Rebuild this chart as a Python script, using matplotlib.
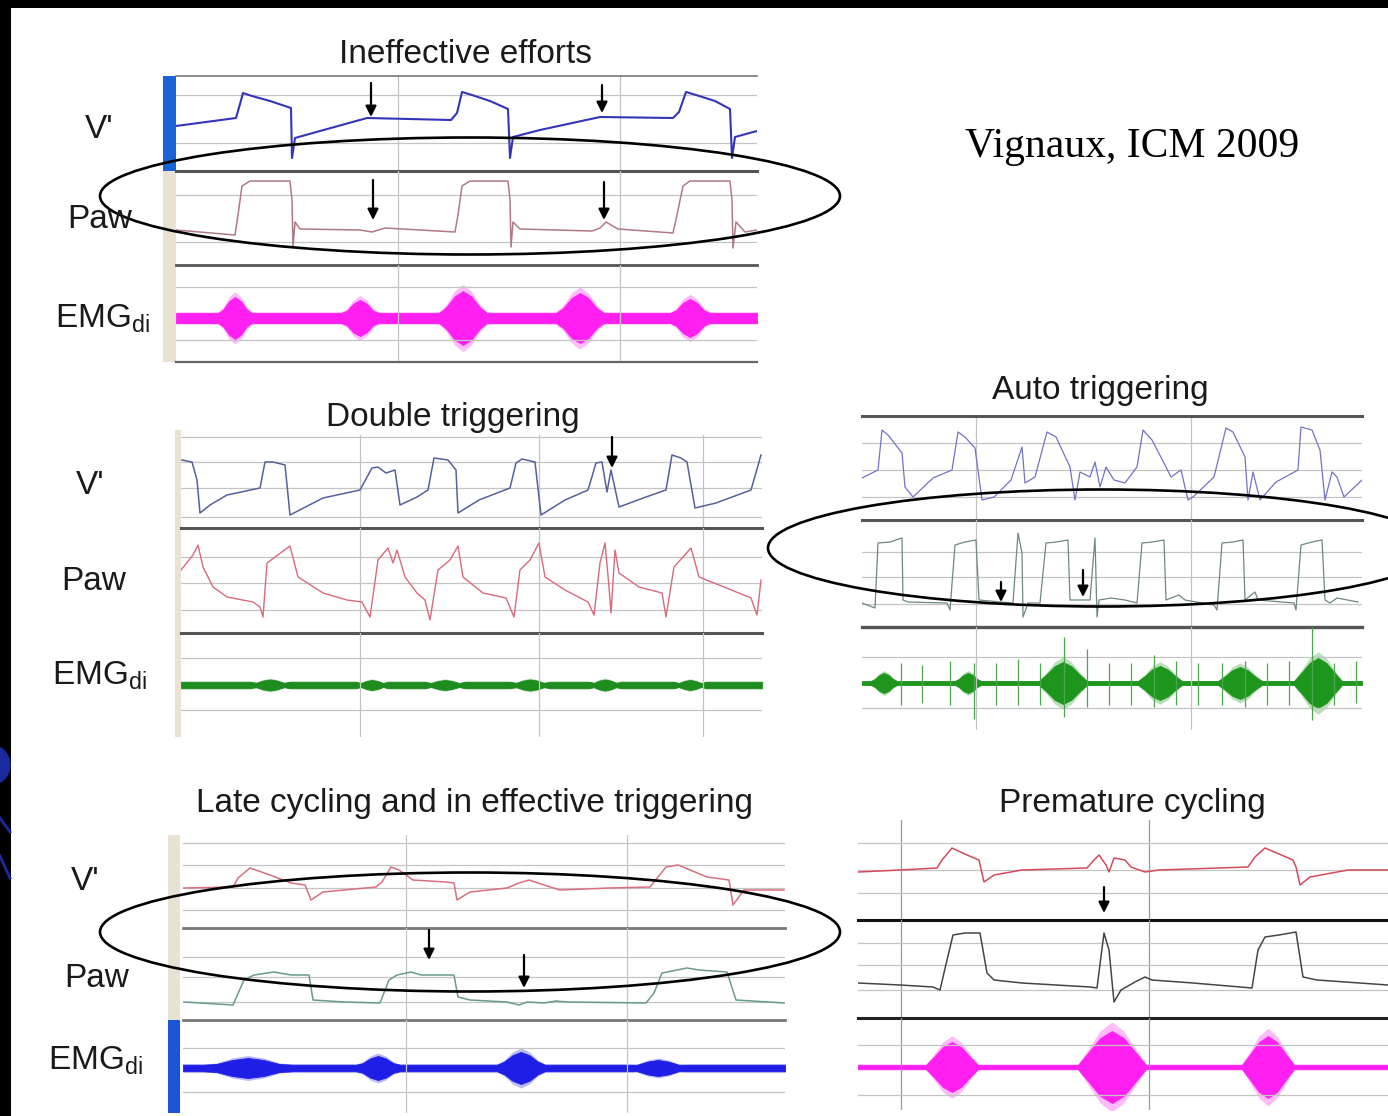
import matplotlib.pyplot as plt
from matplotlib.patches import Ellipse, Circle

W, H = 1388, 1116
plt.rcParams['font.family'] = ['Liberation Sans', 'DejaVu Sans']
plt.rcParams['mathtext.fontset'] = 'custom'
plt.rcParams['mathtext.rm'] = 'Liberation Sans'
plt.rcParams['mathtext.it'] = 'Liberation Sans:italic'

# ---- data: time in s (100 px per s), signal in arbitrary units ----
# panel 1: ineffective efforts
p1_flow_t = [0.00, 0.60, 0.64, 0.67, 0.76, 0.94, 1.15, 1.16, 1.19, 1.44, 1.91, 2.75, 2.81, 2.86, 2.96,
             3.14, 3.32, 3.34, 3.37, 3.64, 4.24, 4.97, 5.03, 5.10, 5.20, 5.39, 5.54, 5.56, 5.59, 5.81]
p1_flow = [-0.3, 0.5, 1.9, 3.0, 2.7, 2.2, 1.5, -3.5, -1.5, -0.8, 0.5, 0.3, 1.0, 3.1, 2.8,
           2.2, 1.4, -3.5, -1.4, -0.7, 0.6, 0.5, 1.1, 3.1, 2.8, 2.2, 1.4, -3.5, -1.4, -0.8]
p1_paw_t = [0.00, 0.59, 0.62, 0.66, 0.74, 1.14, 1.16, 1.17, 1.19, 1.24, 1.84, 1.96, 2.09, 2.79, 2.82,
            2.86, 2.94, 3.32, 3.34, 3.35, 3.37, 3.44, 4.16, 4.24, 4.30, 4.42, 4.97, 5.01, 5.07, 5.14,
            5.54, 5.56, 5.57, 5.60, 5.69, 5.81]
p1_paw = [0.0, -0.5, 1.5, 4.4, 4.9, 4.9, 3.0, -1.6, 0.8, 0.1, 0.0, -0.2, 0.2, -0.2, 1.5,
          4.4, 4.9, 4.9, 3.0, -1.7, 0.8, 0.1, -0.1, 0.2, 0.8, 0.1, -0.3, 1.5, 4.4, 4.9,
          4.9, 3.0, -1.8, 0.8, -0.2, 0.0]
p1_emg_centers = [0.59, 1.84, 2.87, 4.04, 5.14]
p1_emg_widths = [0.17, 0.19, 0.24, 0.24, 0.20]
p1_emg_amps = [2.1, 1.8, 2.7, 2.5, 1.9]
p1_arrows_flow = [(1.95, 4.0, 0.6), (4.26, 3.8, 1.0)]
p1_arrows_paw = [(1.97, 5.0, 1.0), (4.28, 4.8, 1.0)]

# panel 2: double triggering
p2_flow_t = [0.01, 0.11, 0.16, 0.19, 0.29, 0.46, 0.79, 0.84, 0.92, 1.04, 1.09, 1.42, 1.79, 1.91, 1.97,
             2.05, 2.14, 2.19, 2.36, 2.47, 2.53, 2.67, 2.75, 2.77, 2.98, 3.29, 3.35, 3.41, 3.54, 3.60,
             3.84, 4.07, 4.15, 4.21, 4.26, 4.30, 4.38, 4.65, 4.85, 4.91, 5.00, 5.06, 5.14, 5.35, 5.70, 5.80]
p2_flow = [2.8, 2.6, 0.8, -2.5, -1.7, -0.7, 0.0, 2.6, 2.6, 2.3, -2.7, -1.0, -0.2, 2.0, 2.1,
           1.5, 1.8, -1.7, -0.9, -0.2, 3.0, 2.8, 1.8, -2.5, -1.2, 0.0, 2.5, 2.9, 2.6, -2.7,
           -1.2, -0.2, 2.5, 2.6, -0.4, 1.8, -1.9, -0.9, -0.2, 3.3, 3.0, 2.6, -2.0, -1.5, -0.2, 3.3]
p2_paw_t = [0.00, 0.12, 0.17, 0.22, 0.32, 0.46, 0.72, 0.79, 0.82, 0.86, 0.94, 1.09, 1.17, 1.42, 1.66,
            1.81, 1.89, 1.97, 2.07, 2.12, 2.16, 2.24, 2.36, 2.44, 2.49, 2.57, 2.69, 2.77, 2.82, 3.02,
            3.25, 3.33, 3.39, 3.49, 3.58, 3.64, 3.84, 4.07, 4.13, 4.19, 4.24, 4.28, 4.30, 4.34, 4.38,
            4.58, 4.81, 4.85, 4.93, 5.02, 5.10, 5.18, 5.43, 5.70, 5.76, 5.80]
p2_paw = [1.3, 2.8, 3.8, 1.6, -0.4, -1.4, -1.9, -2.4, -3.4, 2.0, 2.6, 3.7, 0.6, -1.0, -1.7,
          -1.9, -3.4, 2.3, 3.5, 2.0, 3.3, 0.6, -1.0, -1.7, -3.7, 1.3, 2.3, 3.7, 0.6, -1.0,
          -1.5, -3.4, 1.3, 2.3, 4.0, 0.6, -0.7, -1.9, -3.2, 2.0, 4.0, -0.4, -3.0, 3.3, 1.0,
          -0.4, -1.0, -3.4, 1.6, 2.6, 3.5, 0.6, -0.4, -1.5, -3.2, 0.3]
p2_emg_centers = [0.89, 1.91, 2.64, 3.49, 4.24, 5.09]
p2_emg_widths = [0.20, 0.16, 0.20, 0.20, 0.16, 0.16]
p2_emg_amps = [0.55, 0.5, 0.5, 0.55, 0.55, 0.5]
p2_arrows_flow = [(4.31, 5.1, 2.0)]

# panel 3: auto triggering
p3_flow_t = [0.00, 0.16, 0.20, 0.26, 0.40, 0.43, 0.51, 0.71, 0.90, 0.96, 1.03, 1.13, 1.20, 1.32, 1.49,
             1.60, 1.63, 1.73, 1.85, 1.94, 2.08, 2.13, 2.18, 2.28, 2.33, 2.38, 2.44, 2.52, 2.63, 2.75,
             2.81, 2.90, 3.04, 3.09, 3.19, 3.26, 3.31, 3.52, 3.64, 3.71, 3.83, 3.86, 3.91, 3.98, 4.14,
             4.36, 4.39, 4.50, 4.58, 4.63, 4.70, 4.75, 4.82, 5.00]
p3_flow = [-0.8, 0.0, 4.0, 3.5, 1.7, -1.7, -2.7, -0.8, 0.0, 3.8, 3.3, 2.2, -3.0, -2.7, -1.0,
           2.3, -1.3, -0.7, 3.8, 3.3, 0.3, -3.0, -0.2, -0.7, 0.8, -1.7, 0.3, -1.0, -1.3, 0.3,
           4.0, 3.0, 0.3, -0.7, 0.0, -3.0, -2.7, -0.7, 4.2, 3.8, 1.3, -3.0, -0.2, -3.0, -1.2,
           0.0, 4.3, 4.0, 2.0, -3.0, -0.2, -0.7, -2.7, -1.0]
p3_paw_t = [0.00, 0.13, 0.16, 0.28, 0.40, 0.41, 0.46, 0.85, 0.88, 0.93, 1.03, 1.14, 1.17, 1.39, 1.51,
            1.56, 1.60, 1.61, 1.66, 1.78, 1.84, 1.94, 2.06, 2.08, 2.28, 2.33, 2.35, 2.37, 2.49, 2.63,
            2.75, 2.80, 2.90, 3.02, 3.04, 3.17, 3.23, 3.52, 3.55, 3.60, 3.71, 3.81, 3.83, 3.93, 3.96,
            4.32, 4.34, 4.39, 4.50, 4.60, 4.63, 4.68, 4.75, 4.96]
p3_paw = [0.1, -0.4, 6.1, 6.2, 6.6, 0.4, 0.2, 0.1, -0.6, 5.9, 6.2, 6.4, 0.4, 0.2, 0.1,
          7.1, 5.1, -1.3, 0.1, 0.1, 6.1, 6.2, 6.4, 0.4, 0.4, 6.6, -1.3, 0.4, 0.6, 0.4,
          0.1, 6.1, 6.2, 6.4, 0.4, 0.9, 0.4, -0.1, -0.6, 6.1, 6.2, 6.4, 0.4, 1.2, 0.4,
          0.1, -0.6, 5.9, 6.2, 6.4, 0.4, 0.1, 0.6, 0.2]
p3_emg_centers = [0.22, 1.06, 2.01, 2.98, 3.78, 4.56]
p3_emg_widths = [0.13, 0.13, 0.24, 0.22, 0.22, 0.24]
p3_emg_amps = [1.0, 1.0, 2.1, 1.7, 1.6, 2.5]
p3_spike_t = [0.39, 0.60, 0.88, 1.12, 1.34, 1.56, 1.78, 2.02, 2.25, 2.47, 2.69, 2.92, 3.14, 3.36, 3.60,
              3.83, 4.05, 4.27, 4.50, 4.72, 4.94]
p3_spike_up = [2.0, 1.8, 2.2, 2.0, 2.0, 2.4, 2.0, 4.6, 3.4, 2.0, 2.0, 2.8, 2.2, 2.0, 2.0,
               2.2, 2.0, 2.2, 5.6, 2.0, 2.2]
p3_spike_dn = [2.2, 2.0, 2.2, 3.6, 2.2, 2.2, 2.2, 3.4, 2.4, 2.2, 2.2, 2.4, 2.2, 2.2, 2.2,
               2.4, 2.2, 2.2, 3.7, 2.2, 2.0]
p3_arrows_paw = [(1.39, 2.2, 0.2), (2.21, 3.4, 0.7)]

# panel 4: late cycling and ineffective triggering
p4_flow_t = [0.00, 0.50, 0.55, 0.67, 0.87, 1.08, 1.22, 1.28, 1.40, 1.61, 1.93, 1.99, 2.08, 2.16, 2.30,
             2.63, 2.71, 2.74, 2.87, 3.24, 3.36, 3.46, 3.61, 3.77, 4.26, 4.67, 4.83, 4.95, 5.24, 5.46,
             5.50, 5.61, 6.01]
p4_flow = [0.0, 0.1, 1.0, 2.0, 1.3, 0.5, 0.3, -1.2, -0.4, -0.2, 0.1, 0.6, 2.1, 1.8, 0.8,
           0.6, 0.5, -1.2, -0.4, 0.0, 0.5, 0.8, 0.3, -0.2, 0.0, 0.1, 2.1, 2.3, 1.1, 0.8,
           -1.7, -0.2, -0.2]
p4_paw_t = [0.01, 0.50, 0.61, 0.71, 0.91, 1.08, 1.26, 1.30, 1.61, 1.97, 2.06, 2.14, 2.28, 2.38, 2.71,
            2.75, 2.87, 3.24, 3.36, 3.44, 3.61, 3.73, 3.85, 4.63, 4.71, 4.79, 5.04, 5.16, 5.44, 5.53,
            6.01]
p4_paw = [0.0, -0.3, 2.2, 2.7, 3.0, 2.7, 2.7, 0.2, 0.0, -0.1, 2.2, 2.7, 3.0, 2.7, 2.7,
          0.5, 0.2, 0.0, -0.3, 0.0, -0.1, 0.1, 0.0, -0.1, 0.9, 2.9, 3.4, 3.2, 3.0, 0.2,
          -0.1]
p4_emg_centers = [0.65, 1.95, 3.38, 4.75]
p4_emg_widths = [0.45, 0.22, 0.24, 0.30]
p4_emg_amps = [1.0, 1.2, 1.6, 0.8]
p4_arrows_paw = [(2.46, 7.2, 4.2), (3.41, 4.7, 1.4)]

# panel 5: premature cycling
p5_flow_t = [0.00, 0.42, 0.79, 0.84, 0.94, 1.09, 1.21, 1.26, 1.36, 1.64, 2.29, 2.36, 2.41, 2.48, 2.51,
             2.56, 2.67, 2.73, 2.87, 3.01, 3.90, 3.97, 4.07, 4.35, 4.38, 4.42, 4.52, 4.90, 5.30]
p5_flow = [-0.2, 0.0, 0.2, 1.0, 2.2, 1.5, 1.0, -1.2, -0.5, 0.0, 0.2, 1.0, 1.5, 0.5, -0.2,
           1.2, 1.0, 0.3, -0.2, 0.0, 0.3, 1.3, 2.2, 1.0, 0.3, -1.5, -0.7, 0.0, 0.0]
p5_paw_t = [0.00, 0.42, 0.75, 0.82, 0.89, 0.95, 1.07, 1.22, 1.29, 1.36, 1.64, 2.32, 2.39, 2.46, 2.51,
            2.56, 2.63, 2.77, 2.87, 2.94, 3.35, 3.94, 4.00, 4.07, 4.21, 4.38, 4.45, 4.59, 5.30]
p5_paw = [0.7, 0.5, 0.3, 0.0, 3.0, 5.5, 5.7, 5.7, 1.7, 1.0, 0.7, 0.3, 0.2, 5.7, 4.0,
          -1.2, 0.0, 0.8, 1.3, 1.0, 0.7, 0.2, 4.0, 5.3, 5.5, 5.8, 1.3, 1.0, 0.5]
p5_emg_centers = [0.94, 2.54, 4.10]
p5_emg_widths = [0.26, 0.34, 0.26]
p5_emg_amps = [2.5, 3.6, 3.1]
p5_arrows_flow = [(2.46, -1.7, -4.3)]

titles = ["Ineffective efforts", "Double triggering", "Auto triggering",
          "Late cycling and in effective triggering", "Premature cycling"]

# ---- figure ----
fig = plt.figure(figsize=(W / 100, H / 100), dpi=100, facecolor='black')


def px_box(l, t, r, b):
    return [l / W, 1 - b / H, (r - l) / W, (b - t) / H]


bg = fig.add_axes(px_box(11, 8, W, H))
bg.set_facecolor('white')
bg.set_xticks([])
bg.set_yticks([])
for s in bg.spines.values():
    s.set_visible(False)


def channel(l, t, r, b, base, levels, vtimes, top=None, bottom=None, vcolor='#c4c4c4'):
    ax = fig.add_axes(px_box(l, t, r, b))
    ax.set_facecolor('none')
    ax.set_xlim(0, (r - l) / 100)
    ax.set_ylim((base - b) / 10, (base - t) / 10)
    ax.set_yticks(levels)
    ax.set_xticks(vtimes)
    ax.grid(True, axis='y', color='#c4c4c4', lw=0.9)
    ax.grid(True, axis='x', color=vcolor, lw=0.9)
    ax.tick_params(length=0, labelleft=False, labelbottom=False)
    for s in ax.spines.values():
        s.set_visible(False)
    for name, st in (('top', top), ('bottom', bottom)):
        if st:
            ax.spines[name].set_visible(True)
            ax.spines[name].set_color(st[0])
            ax.spines[name].set_linewidth(st[1])
    return ax


def emg(ax, centers, widths, amps, base, color):
    # tapered burst envelopes around a steady baseline band, plus a soft halo
    t_end = ax.get_xlim()[1]
    et, ev = [0.0], [base]
    for c, w, a in zip(centers, widths, amps):
        et += [c - w, c - 0.7 * w, c - 0.35 * w, c, c + 0.35 * w, c + 0.7 * w, c + w]
        ev += [base, a * 0.4, a * 0.8, a, a * 0.8, a * 0.4, base]
    et.append(t_end)
    ev.append(base)
    ax.fill_between(et, [-v * 1.25 for v in ev], [v * 1.25 for v in ev], color=color, alpha=0.3, lw=0)
    ax.fill_between(et, [-v for v in ev], ev, color=color, lw=0.6)


def arrows(ax, items):
    for t, y0, y1 in items:
        ax.annotate('', xy=(t, y1), xytext=(t, y0),
                    arrowprops=dict(arrowstyle='-|>', color='black', lw=1.6,
                                    mutation_scale=16, shrinkA=0, shrinkB=0))


def bar(l, t, r, b, color):
    a = fig.add_axes(px_box(l, t, r, b))
    a.set_facecolor(color)
    a.set_xticks([])
    a.set_yticks([])
    for s in a.spines.values():
        s.set_visible(False)


SEP = '#555555'

# panel 1
bar(163, 76, 176, 171, '#1a63d6')
bar(163, 171, 176, 362, '#e9e1d2')
v1 = [2.22, 4.44]
a = channel(176, 76, 757, 171, 123, [2.8, -2.0], v1, top=('#777777', 1.2), bottom=(SEP, 2.2))
a.plot(p1_flow_t, p1_flow, color='#3434b8', lw=1.5)
arrows(a, p1_arrows_flow)
a = channel(176, 171, 757, 265, 230, [3.5, -1.2], v1, bottom=(SEP, 2.0))
a.plot(p1_paw_t, p1_paw, color='#b07a84', lw=1.1)
arrows(a, p1_arrows_paw)
a = channel(176, 265, 757, 362, 318, [3.1, -2.2], v1, bottom=('#666666', 1.6))
emg(a, p1_emg_centers, p1_emg_widths, p1_emg_amps, 0.5, '#ff1ff0')

# panel 2
bar(175, 430, 181, 737, '#e9e1d2')
v2 = [1.79, 3.58, 5.22]
a = channel(181, 435, 762, 528, 488, [5.1, 2.6, 0.0, -2.9], v2, bottom=(SEP, 2.2))
a.plot(p2_flow_t, p2_flow, color='#56609a', lw=1.1)
arrows(a, p2_arrows_flow)
a = channel(181, 528, 762, 633, 583, [2.6, 0.0, -2.7], v2, bottom=(SEP, 2.2))
a.plot(p2_paw_t, p2_paw, color='#d86a7c', lw=1.0)
a = channel(181, 633, 762, 737, 685, [2.7, -2.5], v2)
emg(a, p2_emg_centers, p2_emg_widths, p2_emg_amps, 0.32, '#1e8c1e')

# panel 3
v3 = [1.14, 3.29]
a = channel(862, 416, 1362, 520, 470, [2.7, 0.0, -2.7], v3, top=(SEP, 2.2), bottom=(SEP, 2.2))
a.plot(p3_flow_t, p3_flow, color='#7272c8', lw=0.9)
a = channel(862, 520, 1362, 627, 604, [5.2, 2.7, 0.0], v3, bottom=(SEP, 2.4))
a.plot(p3_paw_t, p3_paw, color='#6e8884', lw=0.9)
arrows(a, p3_arrows_paw)
a = channel(862, 627, 1362, 730, 683, [2.6, -2.5], v3)
a.vlines(p3_spike_t, [-d for d in p3_spike_dn], p3_spike_up, color='#4aa84a', lw=0.9)
emg(a, p3_emg_centers, p3_emg_widths, p3_emg_amps, 0.2, '#1e961e')

# panel 4
bar(168, 835, 180, 1020, '#e9e1d2')
bar(168, 1020, 180, 1113, '#1a55d8')
v4 = [2.23, 4.44]
a = channel(183, 835, 785, 928, 888, [4.5, 2.3, 0.0, -2.2], v4, bottom=('#777777', 2.0))
a.plot(p4_flow_t, p4_flow, color='#d87080', lw=1.1)
a = channel(183, 928, 785, 1020, 1002, [4.5, 2.5, 0.0], v4, bottom=('#777777', 2.0))
a.plot(p4_paw_t, p4_paw, color='#6a9a8c', lw=1.1)
arrows(a, p4_arrows_paw)
a = channel(183, 1020, 785, 1113, 1068, [2.0, -2.4], v4)
emg(a, p4_emg_centers, p4_emg_widths, p4_emg_amps, 0.33, '#1e1ee6')

# panel 5
v5 = [0.43, 2.91]
a = channel(858, 820, 1388, 920, 870, [2.7, 0.0, -2.3], v5, bottom=('#111111', 2.2), vcolor='#9a9a9a')
a.plot(p5_flow_t, p5_flow, color='#d44a5c', lw=1.1)
arrows(a, p5_arrows_flow)
a = channel(858, 920, 1388, 1018, 990, [4.7, 2.5, 0.0], v5, bottom=('#222222', 2.2), vcolor='#9a9a9a')
a.plot(p5_paw_t, p5_paw, color='#454545', lw=1.1)
a = channel(858, 1018, 1388, 1110, 1067, [2.2, -2.8], v5, vcolor='#9a9a9a')
emg(a, p5_emg_centers, p5_emg_widths, p5_emg_amps, 0.22, '#ff1ff0')

# ---- overlay: texts, ellipses, slide decoration ----
ov = fig.add_axes([0, 0, 1, 1])
ov.set_xlim(0, W)
ov.set_ylim(H, 0)
ov.axis('off')
ov.set_facecolor('none')
ov.set_zorder(10)

for (cx, cy, w, h) in [(470, 196, 740, 117), (1102, 548, 668, 117), (470, 932, 740, 119)]:
    ov.add_patch(Ellipse((cx, cy), w, h, fill=False, ec='black', lw=1.9, clip_on=False))

ov.add_patch(Circle((-10, 765), 20, color='#1c2aa0'))
ov.plot([0, 10], [818, 832], color='#1c2aa0', lw=2)
ov.plot([0, 10], [856, 878], color='#1c2aa0', lw=2)

tkw = dict(ha='center', va='baseline', fontsize=24, color='#1a1a1a')
for txt, x, y in zip(titles, [466, 453, 1100, 475, 1132], [63, 426, 399, 812, 812]):
    ov.text(x, y, txt, **tkw)
ov.text(1132, 157, 'Vignaux, ICM 2009', ha='center', va='baseline', fontsize=30,
        family='Liberation Serif', color='black')

# (V' x, V' baseline, Paw x, Paw baseline, EMG x, EMG baseline)
labels = [(99, 138, 100, 228, 102, 328), (90, 494, 94, 590, 99, 685), (85, 890, 97, 987, 95, 1070)]
for xv, yv, xp, yp, xe, ye in labels:
    ov.text(xv, yv, "V'", **tkw)
    ov.text(xp, yp, 'Paw', **tkw)
    ov.text(xe, ye, r'EMG$_{\mathrm{di}}$', **tkw)

fig.savefig('out.png', dpi=100, facecolor='black')
